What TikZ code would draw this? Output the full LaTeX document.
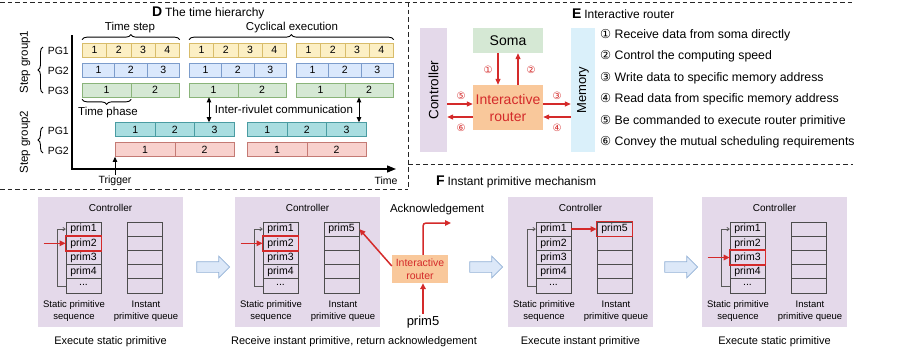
\documentclass[tikz,border=0pt]{standalone}
\usepackage{fontspec}
\setmainfont{Liberation Sans}
\newfontfamily\dvs{DejaVu Sans}
\usetikzlibrary{arrows.meta,decorations.pathreplacing,shapes.arrows}
\definecolor{ylf}{HTML}{FCEFC4}\definecolor{yld}{HTML}{D8BC6A}
\definecolor{blf}{HTML}{DAE8FC}\definecolor{bld}{HTML}{7C9CCB}
\definecolor{grf}{HTML}{D5E8D4}\definecolor{grd}{HTML}{8AB47A}
\definecolor{tlf}{HTML}{A9DDE0}\definecolor{tld}{HTML}{4A9CA2}
\definecolor{pkf}{HTML}{F8D1CD}\definecolor{pkd}{HTML}{C47A74}
\definecolor{puf}{HTML}{E4D9EA}
\definecolor{orf}{HTML}{F9C89B}
\definecolor{mef}{HTML}{DAF0FA}
\definecolor{rd}{HTML}{D42A2A}
\definecolor{baf}{HTML}{DCE8F8}\definecolor{bad}{HTML}{93B1D6}
\newcommand\fs[2]{\fontsize{#1}{#2}\selectfont}
\newcommand\cellrow[6]{%
  \foreach \i in {1,...,#5}{\node[cellb,#6,minimum width={#4/#5}] (#1-\i) at ({#2+(\i-1)*#4/#5},#3) {\i};}}
\newcommand\fpanel[3]{%
  \node[fpan] (#1) at ({#2+72.5},262) {};
  \node[font=\fs{10}{12}] (#1c) at ({#2+72.5},208) {Controller};
  \node[pcell] (#1s1) at ({#2+45.5},229.1) {prim1};
  \node[pcell] (#1s2) at ({#2+45.5},243.3) {prim2};
  \node[pcell] (#1s3) at ({#2+45.5},257.5) {prim3};
  \node[pcell] (#1s4) at ({#2+45.5},271.7) {prim4};
  \node[pcell] (#1s5) at ({#2+45.5},285.9) {\raisebox{2.5pt}{...}};
  \node[pcell] (#1q1) at ({#2+106.5},229.1) {#3};
  \node[pcell] (#1q2) at ({#2+106.5},243.3) {};
  \node[pcell] (#1q3) at ({#2+106.5},257.5) {};
  \node[pcell] (#1q4) at ({#2+106.5},271.7) {};
  \node[pcell] (#1q5) at ({#2+106.5},285.9) {};
  \draw[looparr] (#1s5.west) -- ++(-8,0) |- (#1s1.west);
  \node[flab] (#1ls) at ({#2+36},311) {Static primitive\\sequence};
  \node[flab] (#1lq) at ({#2+108},311) {Instant\\primitive queue};
}
\begin{document}
\begin{tikzpicture}[x=1pt,y=-1pt,
  dashline/.style={draw=black!85,line width=0.9pt,dash pattern=on 4.5pt off 3pt},
  cellb/.style={draw,minimum height=14,inner sep=0,anchor=west,font=\fs{10.5}{12},line width=0.7pt},
  ylw/.style={fill=ylf,draw=yld},
  blu/.style={fill=blf,draw=bld},
  grn/.style={fill=grf,draw=grd},
  tea/.style={fill=tlf,draw=tld},
  pnk/.style={fill=pkf,draw=pkd},
  lbl/.style={font=\fs{11.5}{13},inner sep=0},
  pglbl/.style={font=\fs{10.5}{12},anchor=east,inner sep=0},
  brc/.style={decorate,decoration={brace,amplitude=5pt},line width=0.9pt},
  blkarr/.style={line width=1pt,-{Triangle[length=5pt,width=4.5pt]}},
  redarr/.style={draw=rd,line width=1.2pt,-{Triangle[length=6pt,width=5pt]}},
  fred/.style={draw=rd,line width=1.5pt,-{Triangle[length=6pt,width=5.5pt]}},
  rnum/.style={font=\dvs\fs{10}{12},text=rd,inner sep=0},
  ebox/.style={inner sep=0,draw=none},
  litem/.style={font=\fs{12.3}{14},anchor=west,inner sep=0},
  fpan/.style={fill=puf,minimum width=145,minimum height=130,inner sep=0},
  pcell/.style={draw=black!70,line width=0.8pt,minimum width=35,minimum height=14.2,inner sep=0,font=\fs{10.5}{12}},
  looparr/.style={draw=black!65,line width=0.8pt,-{To[length=3pt,width=4pt]}},
  flab/.style={font=\fs{9.5}{12},align=center,inner sep=0},
  fcap/.style={font=\fs{11}{13},inner sep=0},
  hl/.style={draw=rd,line width=1.6pt},
  barrow/.style={single arrow,fill=baf,draw=bad,line width=0.7pt,minimum height=33,inner sep=5pt,single arrow head extend=5.5pt,single arrow head indent=0pt}
]
\useasboundingbox (0,0) rectangle (908,364);
% ---------- separators ----------
\draw[dashline] (0,2) -- (853,2);
\draw[dashline] (408,2) -- (408,189);
\draw[dashline] (0,189) -- (408,189);
\draw[dashline] (408,164) -- (853,164);
% ---------- Panel D ----------
\node[anchor=west,inner sep=0] (dtitle) at (152,13) {{\fs{14}{14}\bfseries D} {\fs{12}{14}The time hierarchy}};
\coordinate (ytop) at (72,35);
\coordinate (org) at (72,169);
\coordinate (xend) at (396,169);
\draw[line width=1.3pt,-{Triangle[length=9pt,width=7pt]}] (ytop) -- (org) -- (xend);
\node[font=\fs{10.5}{12},inner sep=0] (timel) at (386,181) {Time};
% group 1
\foreach \b/\x in {a/82,b/189,c/296}{
  \cellrow{y\b}{\x}{50}{97}{4}{ylw}
  \cellrow{u\b}{\x}{70}{97}{3}{blu}
  \cellrow{g\b}{\x}{90}{97}{2}{grn}
}
% group 2
\foreach \b/\x in {a/115,b/247}{
  \cellrow{t\b}{\x}{129.5}{119}{3}{tea}
  \cellrow{p\b}{\x}{149.5}{119}{2}{pnk}
}
\node[pglbl] (pg1a) at (69,51) {PG1};
\node[pglbl] (pg2a) at (69,71) {PG2};
\node[pglbl] (pg3a) at (69,91) {PG3};
\node[pglbl] (pg1b) at (69,130.5) {PG1};
\node[pglbl] (pg2b) at (69,150.5) {PG2};
\draw[brc] (43,93) -- (43,47);
\draw[brc] (43,153) -- (43,127);
\node[lbl,rotate=90] (sg1) at (25,62) {Step group1};
\node[lbl,rotate=90] (sg2) at (25,142) {Step group2};
\draw[brc] ([yshift=3pt]ya-1.north west) -- ([yshift=3pt]ya-4.north east);
\node[lbl] (tstep) at (130,28) {Time step};
\draw[brc] ([yshift=3pt]yb-1.north west) -- ([yshift=3pt]yc-4.north east);
\node[lbl] (cyc) at (292,28) {Cyclical execution};
\draw[brc] ([yshift=-2pt]ga-1.south east) -- ([yshift=-2pt]ga-1.south west);
\node[lbl] (tphase) at (108,113) {Time phase};
\draw[{Triangle[length=5pt,width=4.5pt]}-{Triangle[length=5pt,width=4.5pt]},line width=1pt] (209,0 |- gb-1.south) -- (209,0 |- ta-1.north);
\draw[{Triangle[length=5pt,width=4.5pt]}-{Triangle[length=5pt,width=4.5pt]},line width=1pt] (359,0 |- gc-2.south) -- (359,0 |- tb-3.north);
\node[lbl] (irc) at (284,109) {Inter-rivulet communication};
\node[font=\fs{10.5}{12},inner sep=0] (trig) at (115,181) {Trigger};
\draw[blkarr] ([yshift=1pt]trig.north -| pa-1.south west) -- (pa-1.south west);
% ---------- Panel E ----------
\node[anchor=west,inner sep=0] (etitle) at (572,14) {{\fs{14}{14}\bfseries E} {\fs{12}{14}Interactive router}};
\node[ebox,fill=puf,minimum width=27,minimum height=124] (ctl) at (433.5,90) {};
\node[rotate=90,font=\fs{13.5}{15},inner sep=0] (ctlt) at (ctl) {Controller};
\node[ebox,fill=grf,minimum width=70,minimum height=25,font=\fs{14}{16}] (soma) at (508,40.5) {Soma};
\node[ebox,fill=orf,minimum width=70,minimum height=45,font=\fs{14}{17},text=rd,align=center] (rtr) at (508,107.5) {Interactive\\router};
\node[ebox,fill=mef,minimum width=24,minimum height=124] (mem) at (583,90) {};
\node[rotate=90,font=\fs{13}{15},inner sep=0] (memt) at (mem) {Memory};
\draw[redarr] (498,0 |- soma.south) -- (498,0 |- rtr.north);
\draw[redarr] (518,0 |- rtr.north) -- (518,0 |- soma.south);
\draw[redarr] (ctl.east |- 0,104) -- (rtr.west |- 0,104);
\draw[redarr] (rtr.west |- 0,117) -- (ctl.east |- 0,117);
\draw[redarr] (rtr.east |- 0,104) -- (mem.west |- 0,104);
\draw[redarr] (mem.west |- 0,117) -- (rtr.east |- 0,117);
\node[rnum] (n1) at (488,70) {①};
\node[rnum] (n2) at (531,70) {②};
\node[rnum] (n5) at (461,96) {⑤};
\node[rnum] (n6) at (461,128) {⑥};
\node[rnum] (n3) at (557,96) {③};
\node[rnum] (n4) at (557,128) {④};
\node[litem] (l1) at (600,35) {{\dvs ①} Receive data from soma directly};
\node[litem] (l2) at (600,56.5) {{\dvs ②} Control the computing speed};
\node[litem] (l3) at (600,78) {{\dvs ③} Write data to specific memory address};
\node[litem] (l4) at (600,99.5) {{\dvs ④} Read data from specific memory address};
\node[litem] (l5) at (600,121) {{\dvs ⑤} Be commanded to execute router primitive};
\node[litem] (l6) at (600,142.5) {{\dvs ⑥} Convey the mutual scheduling requirements};
% ---------- Panel F ----------
\node[anchor=west,inner sep=0] (ftitle) at (436,182) {{\fs{14}{14}\bfseries F} {\fs{12}{14}Instant primitive mechanism}};
\fpanel{pa}{38}{}
\fpanel{pb}{235}{prim5}
\fpanel{pc}{508}{prim5}
\fpanel{pd}{702}{}
% highlights
\draw[hl] (pas2.south west) rectangle (pas2.north east);
\draw[fred] ([xshift=-22pt]pas2.west) -- (pas2.west);
\draw[hl] (pbs2.south west) rectangle (pbs2.north east);
\draw[fred] ([xshift=-22pt]pbs2.west) -- (pbs2.west);
\draw[hl] (pcq1.south west) rectangle (pcq1.north east);
\draw[fred] (pcs1.east) -- (pcq1.west);
\draw[hl] (pds3.south west) rectangle (pds3.north east);
\draw[fred] ([xshift=-22pt]pds3.west) -- (pds3.west);
% router in panel 2
\node[ebox,fill=orf,minimum width=56,minimum height=28,font=\fs{10.5}{13},text=rd,align=center] (frt) at (420,269) {Interactive\\router};
\draw[fred] ([yshift=3pt]frt.west) -- (pbq1.east);
\coordinate (ackend) at (451,223);
\draw[fred,rounded corners=3pt] ([xshift=3pt]frt.north) |- (ackend);
\node[font=\fs{11.5}{13},inner sep=0] (ack) at (437,210) {Acknowledgement};
\node[font=\fs{13}{15},inner sep=0] (p5) at (423,322) {prim5};
\draw[fred] ([yshift=2pt]p5.north -| frt.south) ++(3,0) -- ([xshift=3pt]frt.south);
% block arrows
\node[barrow] (ba1) at (210.5,267) {};
\node[barrow] (ba2) at (483.5,267) {};
\node[barrow] (ba3) at (678.5,267) {};
% captions
\node[fcap] (ca) at (110.5,342) {Execute static primitive};
\node[fcap] (cb) at (354,342) {Receive instant primitive, return acknowledgement};
\node[fcap] (cc) at (580.5,342) {Execute instant primitive};
\node[fcap] (cd) at (774.5,342) {Execute static primitive};
\end{tikzpicture}
\end{document}
